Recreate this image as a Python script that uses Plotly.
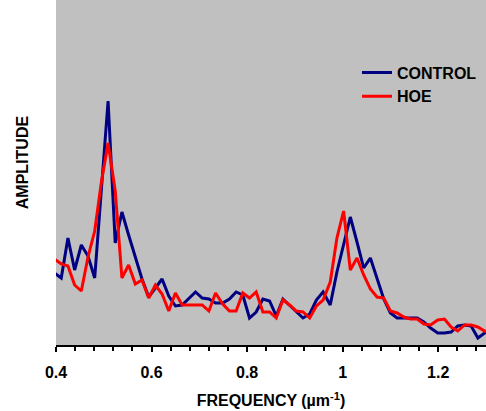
import plotly.graph_objects as go

# Frequency grid (µm^-1)
freq = [0.397, 0.411, 0.425, 0.439, 0.453, 0.467, 0.481, 0.495, 0.509, 0.524,
        0.538, 0.552, 0.566, 0.580, 0.594, 0.608, 0.622, 0.636, 0.650, 0.664,
        0.678, 0.692, 0.706, 0.720, 0.734, 0.749, 0.763, 0.777, 0.791, 0.805,
        0.819, 0.833, 0.847, 0.861, 0.875, 0.889, 0.903, 0.917, 0.931, 0.945,
        0.959, 0.974, 0.988, 1.002, 1.016, 1.030, 1.044, 1.058, 1.072, 1.086,
        1.100, 1.114, 1.128, 1.142, 1.156, 1.170, 1.184, 1.199, 1.213, 1.227,
        1.241, 1.255, 1.269, 1.283, 1.297, 1.311]

# Amplitude (arbitrary units)
control = [72, 67, 107, 75, 100, 89, 67, 155, 244, 102,
           133, 110, 88, 66, 48, 57, 66, 49, 39, 40,
           47, 53, 47, 46, 42, 42, 46, 53, 50, 27,
           33, 46, 44, 29, 46, 40, 34, 27, 31, 45,
           53, 40, 73, 100, 128, 103, 77, 87, 66, 46,
           32, 27, 27, 27, 27, 23, 17, 12, 12, 13,
           19, 20, 19, 7, 12, 15]

hoe = [86, 81, 79, 60, 54, 88, 114, 163, 202, 154,
       67, 80, 61, 65, 47, 60, 51, 34, 52, 40,
       40, 40, 40, 34, 52, 41, 34, 34, 52, 47,
       53, 33, 33, 27, 45, 40, 34, 33, 27, 39,
       45, 63, 107, 134, 75, 87, 70, 56, 48, 47,
       34, 32, 28, 26, 26, 21, 20, 25, 26, 18,
       14, 20, 20, 18, 14, 12]

x_ticks = [0.4, 0.6, 0.8, 1.0, 1.2]
x_tick_labels = ["0.4", "0.6", "0.8", "1", "1.2"]

FONT = "Arial, Liberation Sans, sans-serif"

fig = go.Figure()
fig.add_trace(go.Scatter(x=freq, y=control, mode="lines", name="CONTROL",
                         line=dict(color="#000080", width=3)))
fig.add_trace(go.Scatter(x=freq, y=hoe, mode="lines", name="HOE",
                         line=dict(color="#FF0000", width=3)))

fig.update_layout(
    width=486, height=411,
    margin=dict(l=56, r=0, t=0, b=66),
    paper_bgcolor="white",
    plot_bgcolor="#C0C0C0",
    font=dict(family=FONT, size=16, color="black", weight="bold"),
    showlegend=True,
    legend=dict(x=0.700, y=0.839, xanchor="left", yanchor="top",
                bgcolor="rgba(0,0,0,0)", borderwidth=0,
                font=dict(family=FONT, size=16, color="black", weight="bold")),
    annotations=[dict(text="AMPLITUDE", textangle=-90, xref="paper", yref="paper",
                      x=-0.079, y=0.53, xanchor="center", yanchor="middle",
                      showarrow=False,
                      font=dict(family=FONT, size=16, color="black", weight="bold"))],
)

fig.update_xaxes(
    range=[0.4, 1.3],
    tickvals=x_ticks, ticktext=x_tick_labels,
    ticks="outside", ticklen=5, tickwidth=2, tickcolor="black",
    minor=dict(dtick=0.04, tick0=0.4, ticks="outside", ticklen=4, tickwidth=2,
               tickcolor="black"),
    showline=True, linecolor="black", linewidth=2,
    showgrid=False, zeroline=False,
    ticklabelstandoff=7,
    tickfont=dict(family=FONT, size=16, color="black", weight="bold"),
    title=dict(text="FREQUENCY (µm<sup>-1</sup>)", standoff=15,
               font=dict(family=FONT, size=16, color="black", weight="bold")),
)
fig.update_yaxes(
    range=[0, 345],
    showticklabels=False, ticks="", showline=False,
    showgrid=False, zeroline=False,
)

fig.write_html("out.html", config={"displayModeBar": False},
               post_script="document.body.style.margin='0';")
